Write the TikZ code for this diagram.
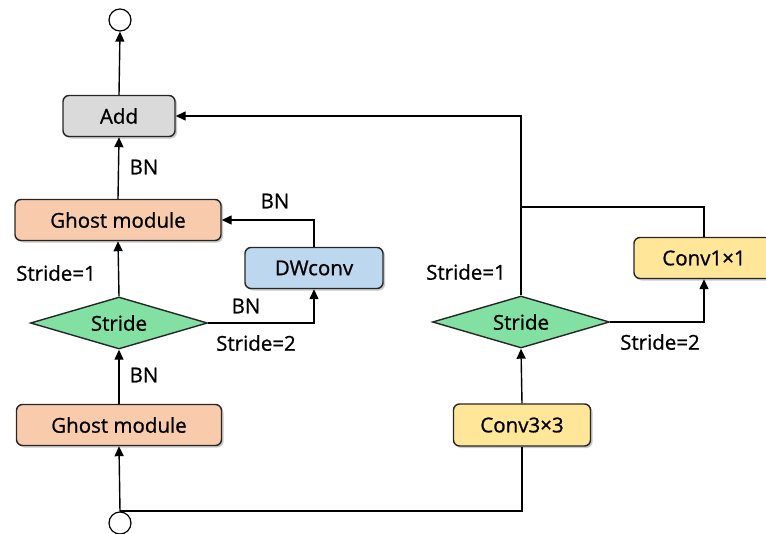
\documentclass[tikz,border=0pt]{standalone}
\usepackage{fontspec}
\setmainfont{Open Sans}
\newfontfamily\lblfont[FakeBold=0.9]{Open Sans}
\usetikzlibrary{arrows.meta,shapes.geometric,shadows}
\definecolor{addc}{HTML}{DADADA}
\definecolor{ghostc}{HTML}{F8CBAD}
\definecolor{dwc}{HTML}{BDD7EE}
\definecolor{stc}{HTML}{82E0A2}
\definecolor{convc}{HTML}{FFE699}
\tikzset{
  txt/.style={font=\lblfont\fontsize{20.5}{23}\selectfont},
  box/.style={draw=black!85, line width=1.4pt, rounded corners=6pt, inner sep=0pt, txt,
    drop shadow={shadow xshift=2pt, shadow yshift=-2pt, opacity=0.35, fill=black!60}},
  dia/.style={draw=black!85, line width=1.4pt, diamond, aspect=3.4, inner sep=0pt, fill=stc,
    minimum width=177pt, minimum height=52pt, txt},
  term/.style={draw=black, line width=1.2pt, circle, minimum size=22pt, inner sep=0pt, fill=white},
  conn/.style={line width=1.4pt, black},
  arr/.style={conn, -{Triangle[length=10pt, width=9pt]}},
  lab/.style={txt, inner sep=0pt}
}
\begin{document}
\begin{tikzpicture}[x=1pt, y=-1pt]
\useasboundingbox (0,0) rectangle (766,533);
% nodes
\node[term] (out) at (120,20) {};
\node[term] (in) at (120,523) {};
\node[box, fill=addc, minimum width=112pt, minimum height=41pt] (add) at (119,116) {Add};
\node[box, fill=ghostc, minimum width=206pt, minimum height=41pt] (g2) at (118,220) {Ghost module};
\node[box, fill=dwc, minimum width=138pt, minimum height=41pt] (dw) at (314,268) {DWconv};
\node[dia] (s1) at (119,323) {Stride};
\node[box, fill=ghostc, minimum width=205pt, minimum height=41pt] (g1) at (119,425) {Ghost module};
\node[box, fill=convc, minimum width=137pt, minimum height=42pt] (c3) at (522,425) {Conv3×3};
\node[dia] (s2) at (521,322) {Stride};
\node[box, fill=convc, minimum width=140pt, minimum height=41pt] (c1) at (704,258) {Conv1×1};
\coordinate (j) at (521,207);
\coordinate (b) at (120,511);
% connectors
\draw[arr] (add.north) -- (out.south);
\draw[arr] (g2.north) -- (add.south);
\draw[arr] (s1.north) -- (g2.south);
\draw[arr] (dw.north) |- (g2.east);
\draw[arr] (s1.east) -| (dw.south);
\draw[arr] (g1.north) -- (s1.south);
\draw[arr] (in.north) -- (g1.south);
\draw[conn] (b) -| (c3.south);
\draw[arr] (c3.north) -- (s2.south);
\draw[arr] (s2.north) |- (add.east);
\draw[conn] (j) -| (c1.north);
\draw[arr] (s2.east) -| (c1.south);
% labels
\node[lab] (l1) at (144,167) {BN};
\node[lab] (l2) at (275,201) {BN};
\node[lab] (l3) at (56,273) {Stride=1};
\node[lab] (l4) at (246,306) {BN};
\node[lab] (l5) at (256,343) {Stride=2};
\node[lab] (l6) at (144,375) {BN};
\node[lab] (l7) at (466,272) {Stride=1};
\node[lab] (l8) at (660,342) {Stride=2};
\end{tikzpicture}
\end{document}
